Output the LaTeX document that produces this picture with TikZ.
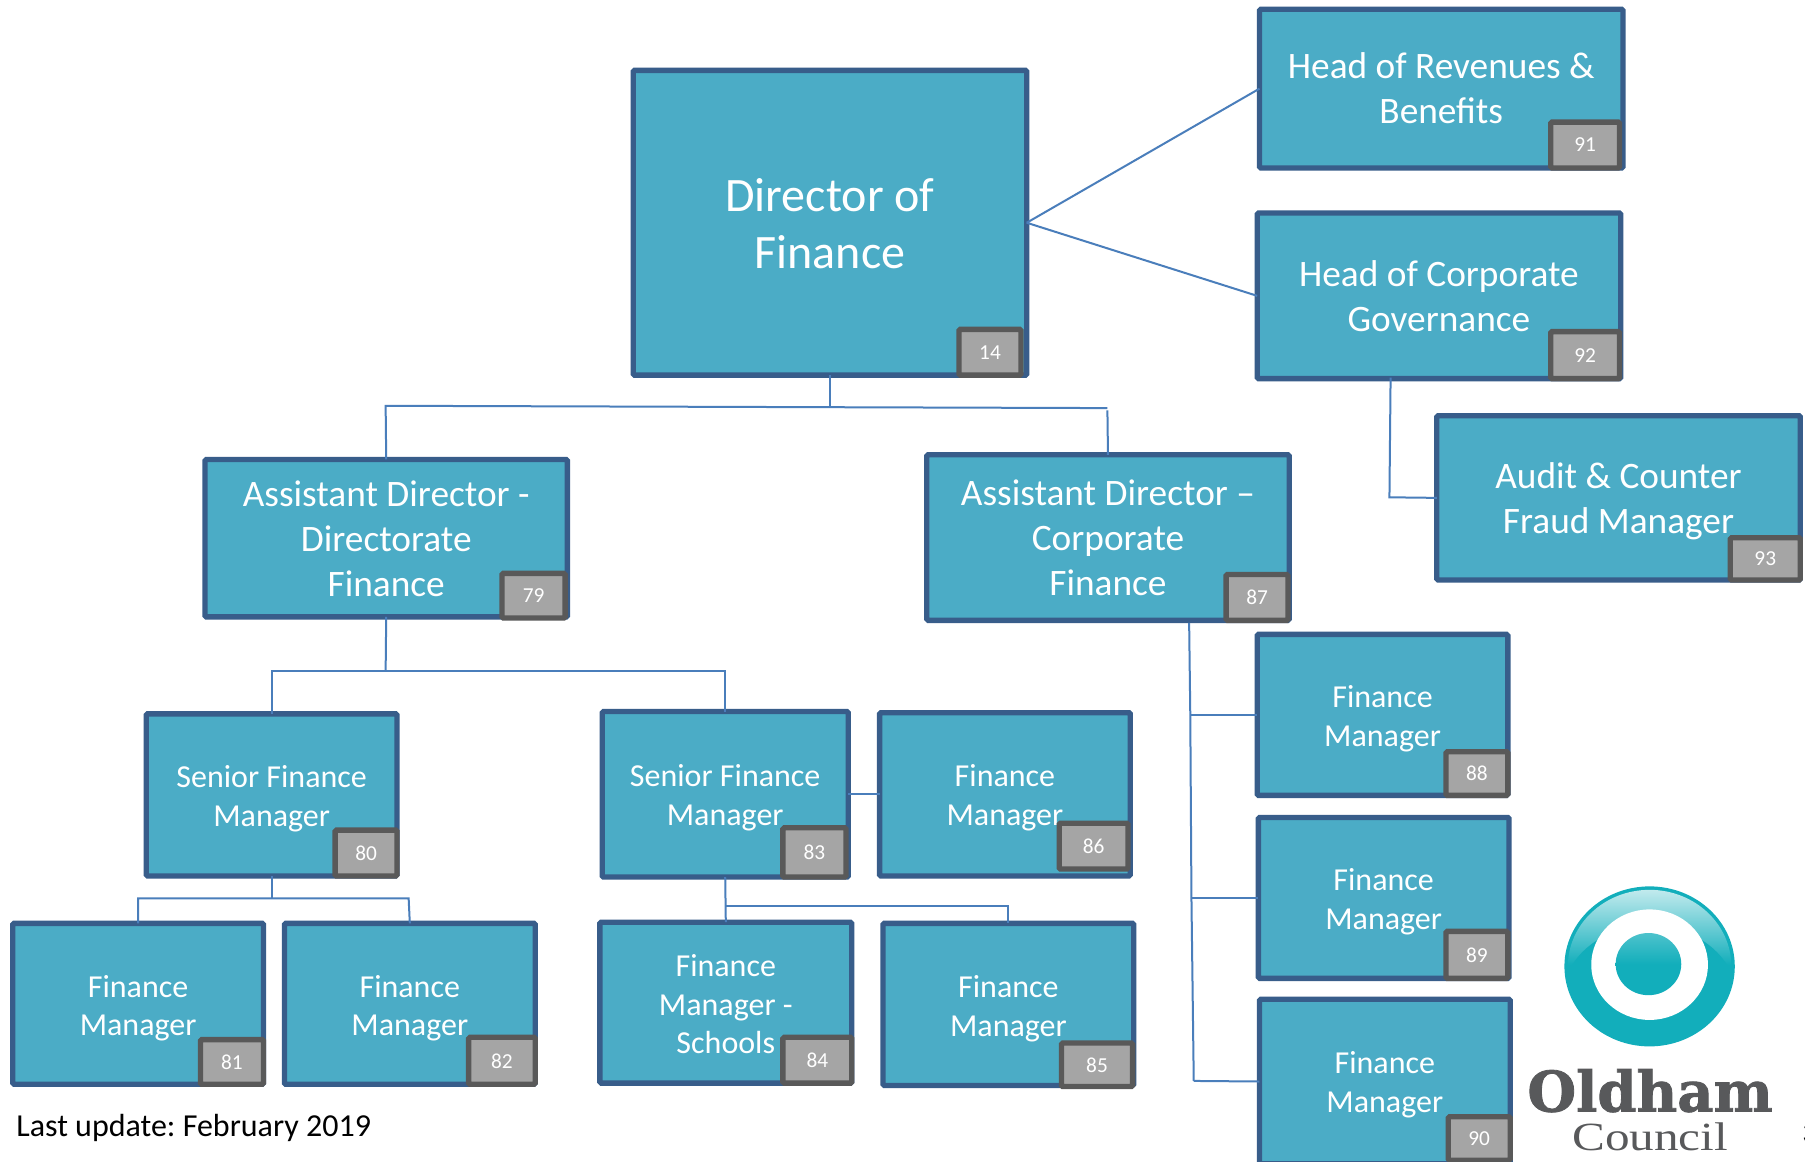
\documentclass[tikz,border=0pt]{standalone}
\usepackage{fontspec}
\setmainfont{Carlito}
\newfontfamily\logoheavy[FakeBold=1.5]{DejaVu Serif Bold}
\newfontfamily\logolight{Liberation Serif}
\usetikzlibrary{calc}
\definecolor{boxfill}{HTML}{4BACC6}
\definecolor{boxline}{HTML}{385D8A}
\definecolor{badgefill}{HTML}{A5A5A5}
\definecolor{badgeline}{HTML}{595959}
\definecolor{conn}{HTML}{4A7EBB}
\definecolor{logoteal}{HTML}{12AEBB}
\definecolor{logogrey}{HTML}{58595B}
\tikzset{
  x=0.8634pt,y=-0.8634pt,
  orgbox/.style={draw=boxline,fill=boxfill,line width=4pt,rounded corners=1pt,inner sep=0pt,outer sep=0pt},
  badge/.style={draw=badgeline,fill=badgefill,line width=4pt,rounded corners=1pt,inner sep=0pt,outer sep=0pt,text=white,font=\fontsize{16}{18}\selectfont},
  huge text/.style={text=white,align=center,inner sep=0pt,font=\fontsize{36}{43}\selectfont},
  big text/.style={text=white,align=center,inner sep=0pt,font=\fontsize{28}{33.7}\selectfont},
  small text/.style={text=white,align=center,inner sep=0pt,font=\fontsize{24}{28.9}\selectfont},
  link/.style={draw=conn,line width=1.5pt},
}
% name, x1, y1, x2, y2, text style, text shift down, text
\newcommand{\placebox}[8]{%
  \node[orgbox,minimum width={(#4-#2)*0.8634pt-1.9pt},minimum height={(#5-#3)*0.8634pt-1.9pt}]
    (#1) at ({(#2+#4)/2},{(#3+#5)/2}) {};
  \node[#6] (#1text) at ($(#1.center)+(0,#7)$) {#8};}
\newcommand{\placebadge}[6]{%
  \node[badge,minimum width={(#4-#2)*0.8634pt-1.9pt},minimum height={(#5-#3)*0.8634pt-1.9pt}]
    (#1) at ({(#2+#4)/2},{(#3+#5)/2}) {#6};}
\begin{document}
\frenchspacing
\begin{tikzpicture}
\clip (0,0) rectangle (1568,1009);
\fill[white] (0,0) rectangle (1568,1009);
% boxes
\placebox{dir}{549}{60}{893}{327}{huge text}{1}{Director of\\Finance}
\placebox{rev}{1093}{7}{1411}{147}{big text}{0}{Head of Revenues \&\\Benefits}
\placebox{gov}{1091}{184}{1409}{330}{big text}{0}{Head of Corporate\\Governance}
\placebox{audit}{1247}{360}{1565}{505}{big text}{3}{Audit \& Counter\\Fraud Manager}
\placebox{adone}{177}{398}{494}{537}{big text}{0.5}{Assistant Director -\\Directorate\\Finance}
\placebox{adtwo}{804}{394}{1121}{540}{big text}{0}{Assistant Director --\\Corporate\\Finance}
\placebox{sfmA}{126}{619}{346}{762}{small text}{3.5}{Senior Finance\\Manager}
\placebox{sfmB}{522}{617}{738}{763}{small text}{3}{Senior Finance\\Manager}
\placebox{fmF}{763}{618}{983}{762}{small text}{3}{Finance\\Manager}
\placebox{fmH}{1091}{550}{1311}{692}{small text}{3.5}{Finance\\Manager}
\placebox{fmI}{1092}{709}{1312}{851}{small text}{3.5}{Finance\\Manager}
\placebox{fmJ}{1093}{867}{1313}{1012}{small text}{3}{Finance\\Manager}
\placebox{fmA}{10}{801}{230}{943}{small text}{4}{Finance\\Manager}
\placebox{fmB}{246}{801}{466}{943}{small text}{4}{Finance\\Manager}
\placebox{fmC}{520}{800}{741}{942}{small text}{1.5}{Finance\\Manager -\\Schools}
\placebox{fmE}{766}{801}{986}{944}{small text}{4}{Finance\\Manager}
% badges
\placebadge{b14}{832}{285}{888}{327}{14}
\placebadge{b91}{1346}{105}{1408}{147}{91}
\placebadge{b92}{1346}{287}{1408}{330}{92}
\placebadge{b93}{1502}{466}{1565}{505}{93}
\placebadge{b79}{435}{497}{492}{538}{79}
\placebadge{b87}{1064}{498}{1120}{540}{87}
\placebadge{b80}{290}{720}{346}{762}{80}
\placebadge{b83}{679}{718}{736}{763}{83}
\placebadge{b86}{919}{714}{981}{756}{86}
\placebadge{b88}{1255}{652}{1311}{692}{88}
\placebadge{b89}{1255}{808}{1311}{851}{89}
\placebadge{b90}{1257}{969}{1313}{1009}{90}
\placebadge{b81}{173}{902}{230}{943}{81}
\placebadge{b82}{406}{900}{466}{943}{82}
\placebadge{b84}{679}{900}{741}{942}{84}
\placebadge{b85}{921}{905}{985}{945}{85}
% junctions
\coordinate (jD) at (721,353);
\coordinate (jDl) at (335,352.5);
\coordinate (jDr) at (962,354.5);
\coordinate (jA) at (335,583);
\coordinate (jAl) at (236,583);
\coordinate (jAr) at (630,583);
\coordinate (jS) at (236,780.5);
\coordinate (jSl) at (120,780.5);
\coordinate (jSr) at (355,780.5);
\coordinate (jB) at (630,787);
\coordinate (jBr) at (876,787);
\coordinate (gA) at (1208,328);
\coordinate (gB) at (1207,432);
\coordinate (tA) at (1033,541);
\coordinate (tB) at (1034,621);
\coordinate (tC) at (1035,780);
\coordinate (tD) at (1037,939);
% connectors
\draw[link] (dir.east) -- (rev.west);
\draw[link] (dir.east) -- (gov.west);
\draw[link] (dir.south) -- (jD);
\draw[link] (adone.north) -- (jDl) -- (jDr);
\draw[link] (jDr) ++(0,2) -- (adtwo.north);
\draw[link] (gA) -- (gB) -- (audit.west);
\draw[link] (adone.south) -- (jA);
\draw[link] (sfmA.north) -- (jAl) -- (jAr) -- (sfmB.north);
\draw[link] (sfmA.south) -- (jS);
\draw[link] (fmA.north) -- (jSl) -- (jSr) -- (fmB.north);
\draw[link] (sfmB.south) -- (fmC.north);
\draw[link] (jB) -- (jBr) -- (fmE.north);
\draw[link] (sfmB.east) -- (fmF.west);
\draw[link] (tA) -- (tB) -- (tC) -- (tD);
\draw[link] (tB) -- (fmH.west);
\draw[link] (tC) -- (fmI.west);
\draw[link] (tD) -- (fmJ.west);
% footer text
\node[anchor=base west,inner sep=0pt,font=\fontsize{24}{28}\selectfont] (updated) at (14,987) {Last update: February 2019};
\node[anchor=base west,inner sep=0pt,font=\fontsize{24}{28}\selectfont] (pageno) at (1565.5,993) {3};
% logo
\fill[logoteal] (1433,839.5) ellipse (74 and 69.5);
\begin{scope}
  \clip (1433,839.5) ellipse (71 and 66.5);
  \shade[top color=logoteal!25!white,bottom color=logoteal] (1350,772) rectangle (1516,838);
  \fill[logoteal] (1433,868) ellipse (76 and 64);
\end{scope}
\fill[white] (1433,838) ellipse (50.7 and 48);
\shade[top color=logoteal!75!white,bottom color=logoteal,middle color=logoteal] (1432,837.5) ellipse (28.5 and 27);
\node[anchor=base west,inner sep=0pt,text=logogrey,font={\logoheavy\fontsize{42}{46}\selectfont}] (oldham) at (1326.6,965.6) {Oldham};
\node[anchor=base west,inner sep=0pt,text=logogrey,xscale=1.23,transform shape,font={\logolight\fontsize{30}{34}\selectfont}] (council) at (1365.6,999) {Council};
\end{tikzpicture}
\end{document}
